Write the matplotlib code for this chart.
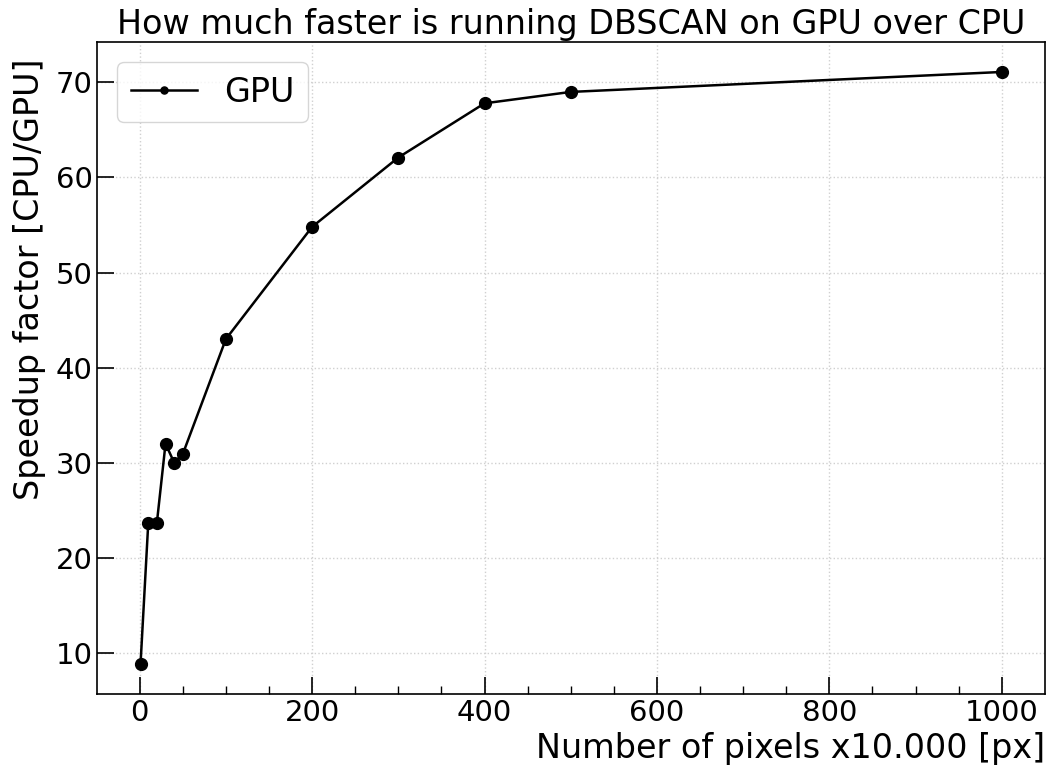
import numpy as np
import matplotlib.pyplot as plt
from matplotlib.ticker import MultipleLocator

# pixels (x10.000) and measured speedup CPU/GPU
pixels = [1, 10, 20, 30, 40, 50, 100, 200, 300, 400, 500, 1000]
speedup = [8.8, 23.7, 23.7, 32.0, 30.0, 30.9, 43.0, 54.8, 62.1, 67.8, 69.0, 71.1]


def main():
    plt.rcParams['font.size'] = 20
    fig, ax = plt.subplots(figsize=(10.48, 7.7), dpi=100)
    ax.plot(pixels, speedup, color='black', marker='o', markersize=8.5,
            linewidth=1.8, label='GPU')

    ax.grid(True, linestyle=':', color='#d0d0d0', linewidth=1)
    ax.xaxis.set_minor_locator(MultipleLocator(50))
    ax.tick_params(which='major', direction='in', length=12, width=1.2, labelsize=21)
    ax.tick_params(which='minor', direction='in', length=6, width=1.0)
    ax.tick_params(axis='y', which='minor', length=0)
    for s in ax.spines.values():
        s.set_linewidth(1.2)

    ax.set_title('How much faster is running DBSCAN on GPU over CPU', fontsize=24)
    ax.set_xlabel('Number of pixels x10.000 [px]', loc='right', fontsize=24)
    ax.set_ylabel('Speedup factor [CPU/GPU]', loc='top', fontsize=24)
    ax.yaxis.set_label_coords(-0.054, 0.975)
    ax.legend(loc='upper left', fontsize=24, markerscale=0.6, borderaxespad=0.6)

    fig.subplots_adjust(left=0.093, right=0.997, top=0.945, bottom=0.099)
    fig.savefig('out.png', dpi=100)


if __name__ == '__main__':
    main()
